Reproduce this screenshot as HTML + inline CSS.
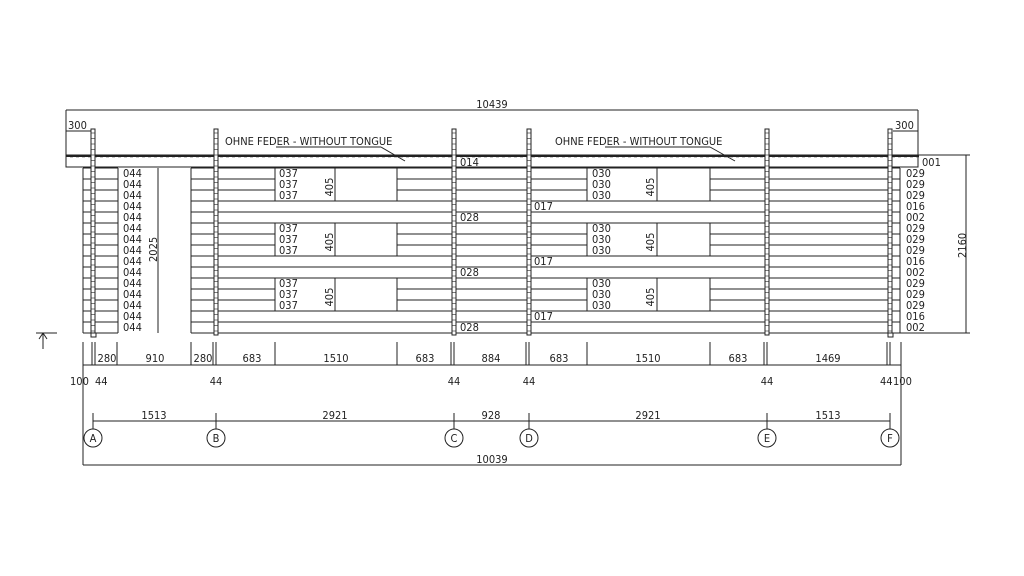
<!DOCTYPE html>
<html><head><meta charset="utf-8"><style>
html,body{margin:0;padding:0;background:#fff;width:1024px;height:576px;overflow:hidden}
svg text{font-family:"DejaVu Sans Condensed","Liberation Sans",sans-serif;font-size:11px;fill:#222}
</style></head><body>
<svg id="s" width="1024" height="576" viewBox="0 0 1024 576" xmlns="http://www.w3.org/2000/svg">
<g id="g" stroke="#222" stroke-width="1" fill="none"></g>
<g id="t"></g>
</svg>
<script>
(function(){
var g=document.getElementById('g'),T=document.getElementById('t'),NS='http://www.w3.org/2000/svg';
function L(x1,y1,x2,y2,w){var e=document.createElementNS(NS,'line');e.setAttribute('x1',x1);e.setAttribute('y1',y1);e.setAttribute('x2',x2);e.setAttribute('y2',y2);if(w)e.setAttribute('stroke-width',w);g.appendChild(e);}
function R(x,y,w,h,f){var e=document.createElementNS(NS,'rect');e.setAttribute('x',x);e.setAttribute('y',y);e.setAttribute('width',w);e.setAttribute('height',h);if(f)e.setAttribute('fill',f);g.appendChild(e);return e;}
function C(x,y,r){var e=document.createElementNS(NS,'circle');e.setAttribute('cx',x);e.setAttribute('cy',y);e.setAttribute('r',r);g.appendChild(e);}
function X(s,x,y,a,rot){var e=document.createElementNS(NS,'text');e.textContent=s;e.setAttribute('x',x);e.setAttribute('y',y);if(a)e.setAttribute('text-anchor',a);if(rot)e.setAttribute('transform','rotate(-90 '+x+' '+y+')');T.appendChild(e);}
var Y0=168,H=11,N=15;
function ry(i){return Y0+i*H;}
function isWin(i){return (i%5)<3;}
L(66,110,918,110);L(66,110,66,155);L(918,110,918,155);X('10439',492,108,'middle');
L(66,131,93,131);X('300',68,129);L(893,131,918,131);X('300',895,129);
R(66,155,852,12);L(66,156,918,156,2);
for(var x=70;x<918;x+=6)L(x,156,x+3,156,2.5);
for(var i=0;i<=N;i++){var y=ry(i);
 L(83,y,118,y);L(890,y,900,y);
 L(191,y,890,y);
}
function opening(x1,x2){for(var k=0;k<3;k++){var y1=ry(k*5),y2=ry(k*5+3);var e=R(x1+0.5,y1+0.5,x2-x1-1,y2-y1-1,'#fff');e.setAttribute('stroke','none');L(x1,y1,x1,y2);L(x2,y1,x2,y2);}}
opening(275,397);opening(587,710);
L(83,168,83,333);L(118,168,118,333);L(191,168,191,333);L(900,168,900,333);
var posts=[93,216,454,529,767,890];
posts.forEach(function(p){R(p-2,129,4,206,'#fff');for(var y=133;y<333;y+=5.5)L(p-2,y,p+2,y,0.6);});
R(91,333,5,4,'#fff');R(888,333,5,4,'#fff');
for(var i=0;i<N;i++){var y=ry(i)+9;X('044',123,y);
 var r=['029','029','029','016','002'][i%5];X(r,906,y);
 if(isWin(i)){X('037',279,y);X('030',592,y);}
}
X('001',922,166);
X('014',460,166);
[1,2,3].forEach(function(k){X('028',460,ry(k*5-1)+9);X('017',534,ry(k*5-2)+9);});
for(var k=0;k<3;k++){var y1=ry(k*5),y2=ry(k*5+3);L(335,y1,335,y2);L(657,y1,657,y2);X('405',333,(y1+y2)/2+12,null,1);X('405',654,(y1+y2)/2+12,null,1);}
L(158,168,158,333);X('2025',157,262,null,1);
L(918,155,970,155);L(900,333,970,333);L(966,155,966,333);X('2160',966,258,null,1);
L(36,333,57,333);L(43,333,43,349);L(43,333,39,339);L(43,333,47,339);
var tk=[83,92,95,117,191,213,216,275,397,451,454,526,529,587,710,764,767,887,890,901];
tk.forEach(function(x){L(x,342,x,365);});
L(83,365,901,365);
[['280',107],['910',155],['280',203],['683',252],['1510',336],['683',425],['884',491],['683',559],['1510',648],['683',738],['1469',828]].forEach(function(a){X(a[0],a[1],362,'middle');});
X('100',70,385);X('44',95,385);X('44',216,385,'middle');X('44',454,385,'middle');X('44',529,385,'middle');X('44',767,385,'middle');X('44',880,385);X('100',893,385);
L(83,365,83,465);L(901,365,901,465);
L(93,421,890,421);
var labs=['A','B','C','D','E','F'];
posts.forEach(function(p,i){L(p,413,p,429);C(p,438,9);X(labs[i],p,442,'middle');});
[['1513',154],['2921',335],['928',491],['2921',648],['1513',828]].forEach(function(a){X(a[0],a[1],419,'middle');});
L(83,465,901,465);X('10039',492,463,'middle');
X('OHNE FEDER - WITHOUT TONGUE',225,145);L(276,147,381,147);L(381,147,405,161);
X('OHNE FEDER - WITHOUT TONGUE',555,145);L(605,147,710,147);L(710,147,735,161);
})();
</script>
</body></html>
